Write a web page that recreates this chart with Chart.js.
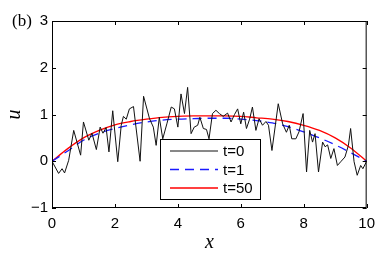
<!DOCTYPE html>
<html>
<head>
<meta charset="utf-8">
<script src="https://cdn.jsdelivr.net/npm/chart.js@4"></script>
<style>
  html, body { margin: 0; padding: 0; background: #fff; }
  #wrap { width: 382px; height: 253px; }
</style>
</head>
<body>
<div id="wrap"><canvas id="myChart" width="382" height="253"></canvas></div>
<script>
// t=0 noisy initial profile
var x0 = [0, 0.21, 0.32, 0.4, 0.53, 0.69, 0.91, 1.0, 1.17, 1.27, 1.41, 1.53, 1.62, 1.72, 1.81, 1.93,
  2.09, 2.2, 2.27, 2.36, 2.46, 2.59, 2.8, 2.91, 3.1, 3.22, 3.31, 3.41, 3.52, 3.65, 3.79, 3.89,
  4.0, 4.1, 4.21, 4.31, 4.42, 4.52, 4.63, 4.7, 4.81, 4.91, 4.99, 5.1, 5.21, 5.32, 5.44, 5.58,
  5.69, 5.8, 5.9, 6.0, 6.09, 6.18, 6.28, 6.37, 6.48, 6.58, 6.69, 6.8, 6.88, 6.99, 7.19, 7.33,
  7.45, 7.54, 7.62, 7.75, 7.85, 7.98, 8.09, 8.19, 8.28, 8.36, 8.47, 8.6, 8.68, 8.76, 8.86, 8.96,
  9.07, 9.19, 9.31, 9.42, 9.49, 9.6, 9.7, 9.81, 9.88, 10];
var u0 = [0, -0.26, -0.16, -0.25, 0.02, 0.66, 0.13, 0.84, 0.45, 0.6, 0.25, 0.73, 0.6, 0.72, 0.2, 1.08,
  -0.01, 0.77, 0.96, 0.9, 1.12, 1.17, 0.0, 1.39, 0.91, 0.73, 0.34, 0.94, 0.48, 0.8, 1.16, 1.12,
  0.73, 1.44, 1.02, 1.58, 0.59, 0.73, 0.77, 0.94, 0.7, 0.68, 0.48, 1.02, 1.09, 1.02, 0.96, 1.03,
  0.84, 1.0, 1.12, 0.8, 1.05, 0.7, 0.9, 1.16, 0.66, 0.91, 0.77, 0.85, 0.77, 0.23, 1.23, 0.8,
  0.62, 0.77, 0.48, 0.48, 0.63, 1.02, -0.23, 0.66, 0.41, 0.59, -0.23, 0.41, 0.31, 0.35, 0.06, 0.27,
  -0.09, 0.0, 0.09, 0.34, 0.7, -0.01, -0.3, -0.09, -0.16, 0];

// smooth profiles
var xs = [0, 0.5, 1, 1.5, 2, 2.5, 3, 3.5, 4, 4.5, 5, 5.5, 6, 6.5, 7, 7.5, 8, 8.5, 9, 9.5, 10];
var u1 = [0, 0.22, 0.45, 0.6, 0.7, 0.78, 0.84, 0.88, 0.9, 0.91, 0.92, 0.92, 0.9, 0.87, 0.82, 0.74, 0.63, 0.5, 0.35, 0.18, 0];
var u50 = [0, 0.27, 0.5, 0.66, 0.78, 0.85, 0.9, 0.94, 0.96, 0.97, 0.97, 0.97, 0.96, 0.93, 0.9, 0.85, 0.77, 0.66, 0.5, 0.28, 0];

var xTicks = [0, 2, 4, 6, 8, 10];
var yTicks = [-1, 0, 1, 2, 3];

function pts(xv, yv) {
  return xv.map(function (x, i) { return { x: x, y: yv[i] }; });
}

var sans = "'Liberation Sans', Arial, sans-serif";
var serif = "'Liberation Serif', 'Times New Roman', serif";

// frame, inward ticks, legend box, panel label
var decor = {
  id: 'decor',
  afterDraw: function (chart) {
    var c = chart.ctx, a = chart.chartArea;
    var xs_ = chart.scales.x, ys_ = chart.scales.y;
    c.save();
    c.strokeStyle = '#000';
    c.lineWidth = 1;
    c.strokeRect(a.left + 0.5, a.top + 0.5, a.right - a.left - 1, a.bottom - a.top - 1);
    c.beginPath();
    xTicks.forEach(function (t) {
      var p = Math.round(xs_.getPixelForValue(t)) + 0.5;
      c.moveTo(p, a.bottom); c.lineTo(p, a.bottom - 4);
      c.moveTo(p, a.top); c.lineTo(p, a.top + 4);
    });
    yTicks.forEach(function (t) {
      var p = Math.round(ys_.getPixelForValue(t)) + 0.5;
      c.moveTo(a.left, p); c.lineTo(a.left + 4, p);
      c.moveTo(a.right, p); c.lineTo(a.right - 4, p);
    });
    c.stroke();

    // legend
    var lx = 160.5, ly = 139.5, lw = 100, lh = 60;
    c.fillStyle = '#fff';
    c.fillRect(lx, ly, lw, lh);
    c.strokeRect(lx, ly, lw, lh);
    c.font = '15px ' + sans;
    c.textBaseline = 'middle';
    c.textAlign = 'left';
    chart.data.datasets.forEach(function (ds, i) {
      var yy = 151 + i * 18.5;
      c.beginPath();
      c.strokeStyle = ds.borderColor;
      c.lineWidth = ds.borderWidth;
      c.setLineDash(ds.borderDash || []);
      c.moveTo(170, yy); c.lineTo(218, yy);
      c.stroke();
      c.setLineDash([]);
      c.fillStyle = '#000';
      c.fillText(ds.label, 223, yy + 1);
    });

    c.font = '17px ' + serif;
    c.fillStyle = '#000';
    c.textAlign = 'left';
    c.textBaseline = 'middle';
    c.fillText('(b)', 12, 22);
    c.restore();
  }
};

var ctx = document.getElementById('myChart');
var myChart = new Chart(ctx, {
  type: 'scatter',
  data: {
    datasets: [{
      label: 't=0',
      data: pts(x0, u0),
      showLine: true,
      borderColor: '#111111',
      borderWidth: 1,
      pointRadius: 0,
      tension: 0
    }, {
      label: 't=1',
      data: pts(xs, u1),
      showLine: true,
      borderColor: '#1a1aff',
      borderWidth: 1.3,
      borderDash: [9, 6],
      pointRadius: 0,
      cubicInterpolationMode: 'monotone'
    }, {
      label: 't=50',
      data: pts(xs, u50),
      showLine: true,
      borderColor: '#ff0000',
      borderWidth: 1.3,
      pointRadius: 0,
      cubicInterpolationMode: 'monotone'
    }]
  },
  options: {
    responsive: false,
    animation: false,
    events: [],
    layout: { padding: { left: 0, right: 14, top: 21, bottom: 0 } },
    plugins: { legend: { display: false }, tooltip: { enabled: false } },
    scales: {
      x: {
        type: 'linear', min: 0, max: 10,
        afterFit: function (s) { s.height = 45; },
        afterBuildTicks: function (s) { s.ticks = xTicks.map(function (v) { return { value: v }; }); },
        grid: { display: false, drawTicks: false },
        border: { display: false },
        ticks: { color: '#000', font: { family: sans, size: 15 }, padding: 7, maxRotation: 0 },
        title: { display: true, text: 'x', color: '#000', font: { family: serif, size: 20, style: 'italic', lineHeight: 1 }, padding: { top: 0, bottom: 0 } }
      },
      y: {
        type: 'linear', min: -1, max: 3,
        afterFit: function (s) { s.width = 52; },
        afterBuildTicks: function (s) { s.ticks = yTicks.map(function (v) { return { value: v }; }); },
        grid: { display: false, drawTicks: false },
        border: { display: false },
        ticks: { color: '#000', font: { family: sans, size: 15 }, padding: 4,
          callback: function (v) { return v < 0 ? '\u2212' + Math.abs(v) : String(v); } },
        title: { display: true, text: 'u', color: '#000', font: { family: serif, size: 20, style: 'italic' }, padding: { top: 3, bottom: 0 } }
      }
    }
  },
  plugins: [decor]
});
</script>
</body>
</html>
